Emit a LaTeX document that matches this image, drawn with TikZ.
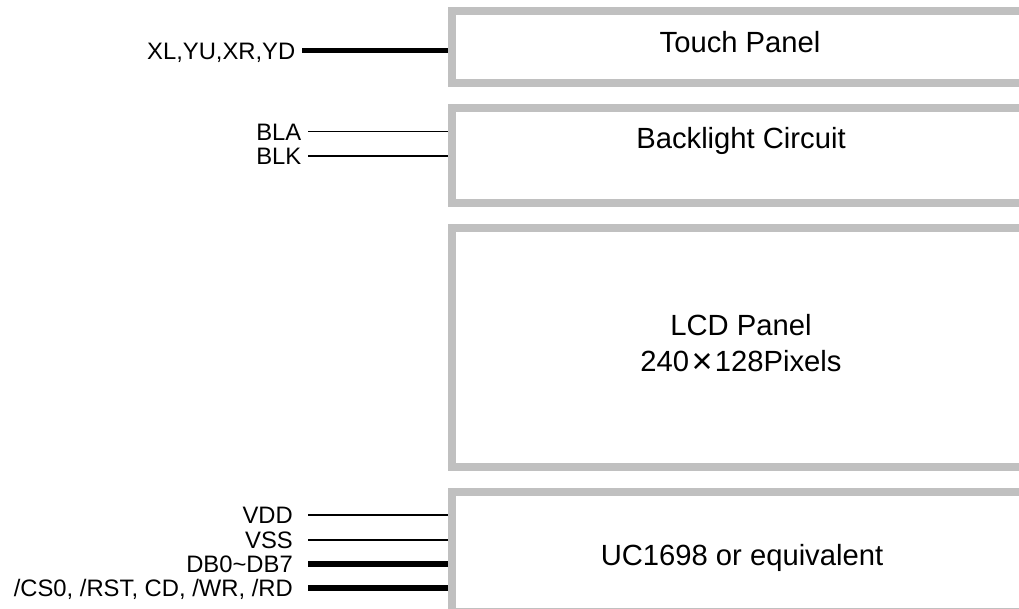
\documentclass[tikz,border=0pt]{standalone}
\usepackage{fontspec}
\setmainfont{Liberation Sans}
\definecolor{panelgray}{RGB}{192,192,192}
\usetikzlibrary{positioning}

\begin{document}
\begin{tikzpicture}[x=1pt,y=-1pt]
  \tikzstyle{panel}=[rectangle,draw=panelgray,line width=8pt,anchor=north west,minimum width=578pt,inner sep=0pt]
  \tikzstyle{title}=[font=\fontsize{29.2}{36.7}\selectfont,inner sep=0pt,align=center]
  \tikzstyle{sig}=[font=\fontsize{23.8}{28}\selectfont,anchor=east,inner ysep=0pt,inner xsep=6.5pt,text height=17pt,text depth=0pt]
  \tikzstyle{bus}=[line width=5.5pt]
  \tikzstyle{wire}=[line width=1.5pt]
  \clip (0,0) rectangle (1019,609);
  % blocks
  \node[panel,minimum height=72pt] (touch) at (448,7.5) {};
  \node[panel,minimum height=95pt] (back) at (448,104) {};
  \node[panel,minimum height=239pt] (lcd) at (448,224) {};
  \node[panel,minimum height=120pt] (ctrl) at (448,488) {};
  \node[title,anchor=base] (touchtxt) at (740,52.5) {Touch Panel};
  \node[title,anchor=base] (backtxt) at (741,149) {Backlight Circuit};
  \node[title] (lcdtxt) at (741,343.7) {LCD Panel\\240\hspace{0.08em}\raisebox{-1.5pt}{\fontsize{36}{36}\selectfont ×}\hspace{0.08em}128Pixels};
  \node[title,anchor=base] (ctrltxt) at (742,565) {UC1698 or equivalent};
  % signals
  \node[sig] (xy) at (302,50.7) {XL,YU,XR,YD};
  \node[sig] (bla) at (308,131.7) {BLA};
  \node[sig] (blk) at (308,156) {BLK};
  \node[sig,inner xsep=15pt] (vdd) at (308,515) {VDD};
  \node[sig,inner xsep=15pt] (vss) at (308,540) {VSS};
  \node[sig,inner xsep=15pt] (db) at (308,564) {DB0\textasciitilde DB7};
  \node[sig,inner xsep=15pt] (ctl) at (308,588) {/CS0, /RST, CD, /WR, /RD};
  \draw[bus] (xy.east) -- (xy.east -| touch.west);
  \draw[wire] (bla.east) -- (bla.east -| back.west);
  \draw[wire] (blk.east) -- (blk.east -| back.west);
  \draw[wire] (vdd.east) -- (vdd.east -| ctrl.west);
  \draw[wire] (vss.east) -- (vss.east -| ctrl.west);
  \draw[bus] (db.east) -- (db.east -| ctrl.west);
  \draw[bus] (ctl.east) -- (ctl.east -| ctrl.west);
\end{tikzpicture}
\end{document}
